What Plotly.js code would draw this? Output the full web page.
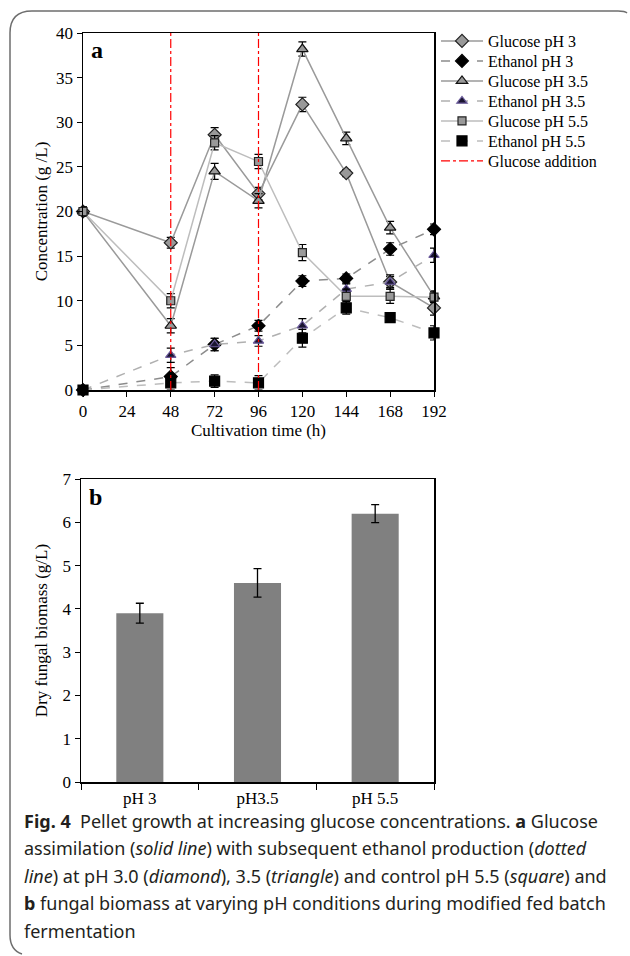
<!DOCTYPE html>
<html>
<head>
<meta charset="utf-8">
<script src="https://cdn.plot.ly/plotly-3.0.1.min.js"></script>
<style>html,body{margin:0;padding:0;background:#fff;}#chart{width:630px;height:956px;}</style>
</head>
<body>
<div id="chart"></div>
<script>
// ---- data ----
const hours = [0, 48, 72, 96, 120, 144, 168, 192];
const glucosePH3 = [20, 16.5, 28.6, 22.0, 32.0, 24.3, 12.1, 9.2];
const glucosePH3Err = [0.5, 0.6, 0.8, 0.7, 0.8, 0.4, 0.6, 0.8];
const ethanolPH3 = [0, 1.5, 5.1, 7.2, 12.2, 12.5, 15.8, 18.0];
const ethanolPH3Err = [0.3, 1.0, 0.7, 0.6, 0.6, 0.5, 0.7, 0.6];
const glucosePH35 = [20, 7.2, 24.5, 21.2, 38.2, 28.2, 18.2, 10.5];
const glucosePH35Err = [0.5, 0.8, 0.9, 0.8, 0.8, 0.7, 0.7, 0.6];
const ethanolPH35 = [0, 3.9, 5.1, 5.5, 7.2, 11.3, 12.1, 15.1];
const ethanolPH35Err = [0.2, 0.8, 0.7, 0.6, 0.8, 0.6, 0.8, 0.8];
const glucosePH55 = [20, 10.0, 27.7, 25.6, 15.4, 10.5, 10.5, 10.4];
const glucosePH55Err = [0.5, 0.8, 0.8, 0.8, 0.9, 0.8, 0.8, 0.6];
const ethanolPH55 = [0, 0.8, 1.0, 0.8, 5.8, 9.2, 8.1, 6.4];
const ethanolPH55Err = [0.3, 0.8, 0.7, 0.8, 1.0, 0.7, 0.3, 0.8];
const additionTimes = [48, 96];
const additionRange = [0, 40];

const biomassCats = ["pH 3", "pH3.5", "pH 5.5"];
const biomass = [3.9, 4.6, 6.2];
const biomassErr = [0.23, 0.33, 0.21];

// ---- helpers ----
const W = 630, H = 956;
const px = x => x / W;
const py = y => 1 - y / H;
const serif = "Liberation Serif, Times New Roman, serif";

function err(arr) {
  return {type: "data", array: arr, visible: true, color: "#000", thickness: 1.2, width: 4};
}
function series(name, leg, y, e, sym, fill, outline, size, lineColor, dash) {
  return {
    x: hours, y: y, name: name, legend: leg, type: "scatter", mode: "lines+markers",
    xaxis: "x", yaxis: "y", cliponaxis: false,
    line: {color: lineColor, width: 1.5, dash: dash},
    marker: {symbol: sym, size: size, color: fill, line: {color: outline, width: 1.2}},
    error_y: err(e)
  };
}

const addX = [], addY = [];
additionTimes.forEach(t => { addX.push(t, t, null); addY.push(additionRange[0], additionRange[1], null); });

const traces = [
  series("Glucose pH 3", "legend", glucosePH3, glucosePH3Err, "diamond", "#999999", "#222", 10, "#9a9a9a", "solid"),
  series("Ethanol pH 3", "legend2", ethanolPH3, ethanolPH3Err, "diamond", "#000000", "#000", 10, "#8c8c8c", "dash"),
  series("Glucose pH 3.5", "legend3", glucosePH35, glucosePH35Err, "triangle-up", "#999999", "#111", 10, "#9a9a9a", "solid"),
  series("Ethanol pH 3.5", "legend4", ethanolPH35, ethanolPH35Err, "triangle-up", "#1a1530", "#6a5a9a", 9, "#b0b0b0", "dash"),
  series("Glucose pH 5.5", "legend5", glucosePH55, glucosePH55Err, "square", "#999999", "#222", 8, "#bdbdbd", "solid"),
  series("Ethanol pH 5.5", "legend6", ethanolPH55, ethanolPH55Err, "square", "#000000", "#000", 10, "#bdbdbd", "dash"),
  {
    x: addX, y: addY, name: "Glucose addition", legend: "legend7", type: "scatter", mode: "lines",
    xaxis: "x", yaxis: "y", line: {color: "#ff0000", width: 1.2, dash: "dashdot"}
  },
  {
    x: biomassCats, y: biomass, type: "bar", xaxis: "x2", yaxis: "y2", showlegend: false,
    width: 0.4, marker: {color: "#808080", line: {width: 0}},
    error_y: {type: "data", array: biomassErr, visible: true, color: "#000", thickness: 1.3, width: 4}
  }
];

const axFont = {family: serif, size: 17, color: "#000"};

const layout = {
  width: W, height: H,
  margin: {l: 0, r: 0, t: 0, b: 0},
  paper_bgcolor: "#fff", plot_bgcolor: "#fff",
  font: {family: serif, size: 17, color: "#000"},
  showlegend: true,
  xaxis: {
    domain: [px(83), px(434)], anchor: "y", range: [0, 192], tickvals: [0, 24, 48, 72, 96, 120, 144, 168, 192],
    showgrid: false, zeroline: false, showline: true, linecolor: "#000", linewidth: 1.5, mirror: true,
    ticks: "outside", ticklen: 5, tickcolor: "#000", tickfont: axFont,
    title: {text: "Cultivation time (h)", font: axFont, standoff: 4}
  },
  yaxis: {
    domain: [py(390), py(33)], anchor: "x", range: [0, 40], dtick: 5,
    showgrid: false, zeroline: false, showline: true, linecolor: "#000", linewidth: 1.5, mirror: true,
    ticks: "outside", ticklen: 5, tickcolor: "#000", tickfont: axFont,
    title: {text: "Concentration (g /L)", font: axFont, standoff: 4}
  },
  xaxis2: {
    domain: [px(81), px(434)], anchor: "y2", type: "category", tickson: "boundaries",
    showgrid: false, zeroline: false, showline: true, linecolor: "#000", linewidth: 1.5, mirror: true,
    ticks: "outside", ticklen: 6, tickcolor: "#000", tickfont: axFont
  },
  yaxis2: {
    domain: [py(782), py(479)], anchor: "x2", range: [0, 7], dtick: 1,
    showgrid: false, zeroline: false, showline: true, linecolor: "#000", linewidth: 1.5, mirror: true,
    ticks: "outside", ticklen: 5, tickcolor: "#000", tickfont: axFont,
    title: {text: "Dry fungal biomass (g/L)", font: axFont, standoff: 10}
  },
  shapes: [
    {
      type: "path", xref: "paper", yref: "paper",
      path: "M " + px(627) + "," + py(13) + " Q " + px(625) + "," + py(11) + " " + px(618) + "," + py(11) +
            " L " + px(32) + "," + py(11) + " Q " + px(10) + "," + py(11) + " " + px(10) + "," + py(33) +
            " L " + px(10) + "," + py(935) + " Q " + px(10) + "," + py(950) + " " + px(22) + "," + py(954),
      line: {color: "#6e6e6e", width: 1.5}
    }
  ],
  annotations: [
    {text: "<b>a</b>", xref: "paper", yref: "paper", x: px(89), y: py(50), xanchor: "left", yanchor: "middle",
     showarrow: false, font: {family: serif, size: 24, color: "#000"}},
    {text: "<b>b</b>", xref: "paper", yref: "paper", x: px(87), y: py(497), xanchor: "left", yanchor: "middle",
     showarrow: false, font: {family: serif, size: 24, color: "#000"}}
  ]
};

// one legend per entry so the rows sit 20px apart like the original
const legendKeys = ["legend", "legend2", "legend3", "legend4", "legend5", "legend6", "legend7"];
legendKeys.forEach((k, i) => {
  layout[k] = {
    x: px(436), y: py(41 + 20 * i), xanchor: "left", yanchor: "middle",
    font: {family: serif, size: 16, color: "#000"},
    bgcolor: "rgba(0,0,0,0)", borderwidth: 0, itemwidth: 42, tracegroupgap: 0
  };
});

const capFont = {family: "Noto Sans, Open Sans, sans-serif", size: 18, color: "#231f20"};
const captionLines = [
  "<b>Fig. 4</b>  Pellet growth at increasing glucose concentrations. <b>a</b> Glucose",
  "assimilation (<i>solid line</i>) with subsequent ethanol production (<i>dotted</i>",
  "<i>line</i>) at pH 3.0 (<i>diamond</i>), 3.5 (<i>triangle</i>) and control pH 5.5 (<i>square</i>) and",
  "<b>b</b> fungal biomass at varying pH conditions during modified fed batch",
  "fermentation"
];
const captionY = [821, 848, 876, 903, 931];
captionLines.forEach((t, i) => {
  layout.annotations.push({text: t, xref: "paper", yref: "paper", x: px(22), y: py(captionY[i]),
    xanchor: "left", yanchor: "middle", showarrow: false, font: capFont});
});

Plotly.newPlot("chart", traces, layout, {displayModeBar: false, staticPlot: true});
</script>
</body>
</html>
